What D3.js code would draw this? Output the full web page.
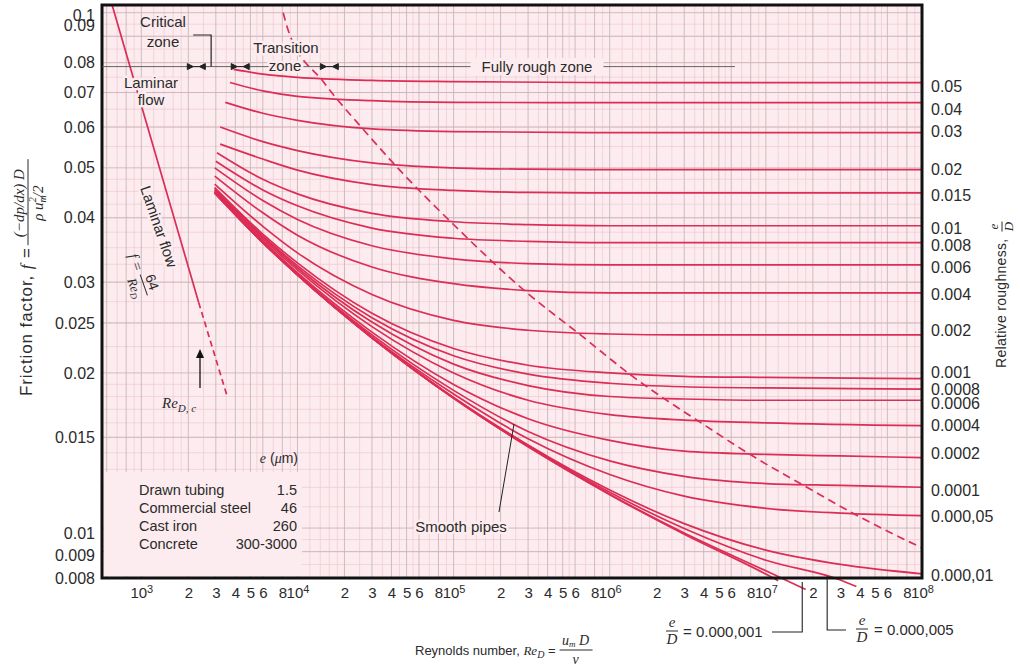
<!DOCTYPE html>
<html>
<head>
<meta charset="utf-8">
<script src="https://cdn.jsdelivr.net/npm/d3@7/dist/d3.min.js"></script>
<style>
  body { margin: 0; background: #fff; }
  text { font-family: "Liberation Sans", Arial, sans-serif; fill: #2b2b2b; }
  .math { font-family: "Liberation Serif", "Times New Roman", serif; font-style: italic; }
  .curve { fill: none; stroke: #dc2d55; stroke-width: 1.7px; }
</style>
</head>
<body>
<script>
// tick values
const reTicks = [1e3, 2e3, 3e3, 4e3, 5e3, 6e3, 8e3, 1e4, 2e4, 3e4, 4e4, 5e4, 6e4, 8e4,
  1e5, 2e5, 3e5, 4e5, 5e5, 6e5, 8e5, 1e6, 2e6, 3e6, 4e6, 5e6, 6e6, 8e6,
  1e7, 2e7, 3e7, 4e7, 5e7, 6e7, 8e7, 1e8];
const fTicks = [0.008, 0.009, 0.01, 0.015, 0.02, 0.025, 0.03, 0.04, 0.05, 0.06, 0.07, 0.08, 0.09, 0.1];

// relative roughness curves, [Re, f]
const roughLabels = ["0.05", "0.04", "0.03", "0.02", "0.015", "0.01", "0.008", "0.006", "0.004",
  "0.002", "0.001", "0.0008", "0.0006", "0.0004", "0.0002", "0.0001", "0.000,05", "0.000,01"];
const roughCurves = [
  [[3900, 0.0776], [6000, 0.0760], [1e4, 0.0749], [3e4, 0.0739], [1e5, 0.0735], [1e6, 0.0732], [1e8, 0.0732]],
  [[3700, 0.0732], [6000, 0.0705], [1e4, 0.0688], [3e4, 0.0675], [1e5, 0.0670], [1e6, 0.0669], [1e8, 0.0669]],
  [[3450, 0.0670], [6000, 0.0638], [1e4, 0.0618], [3e4, 0.0595], [1e5, 0.0588], [1e6, 0.0585], [1e8, 0.0585]],
  [[3200, 0.0600], [6000, 0.0562], [1e4, 0.0540], [3e4, 0.0511], [1e5, 0.0500], [3e5, 0.0497], [1e6, 0.0496], [1e8, 0.0496]],
  [[3200, 0.0556], [6000, 0.0520], [1e4, 0.0495], [3e4, 0.0464], [1e5, 0.0452], [3e5, 0.0448], [1e6, 0.0447], [1e8, 0.0447]],
  [[3050, 0.0535], [6000, 0.0475], [1e4, 0.0445], [3e4, 0.0408], [1e5, 0.0393], [3e5, 0.0388], [1e6, 0.0386], [1e8, 0.0386]],
  [[3000, 0.0515], [6000, 0.0453], [1e4, 0.0422], [3e4, 0.0382], [1e5, 0.0365], [3e5, 0.0360], [1e6, 0.0358], [1e8, 0.0358]],
  [[2950, 0.0500], [6000, 0.0432], [1e4, 0.0397], [3e4, 0.0353], [1e5, 0.0333], [3e5, 0.0326], [1e6, 0.0324], [1e8, 0.0324]],
  [[2950, 0.0482], [6000, 0.0409], [1e4, 0.0370], [3e4, 0.0321], [1e5, 0.0298], [3e5, 0.0289], [1e6, 0.0286], [1e8, 0.0286]],
  [[2950, 0.0465], [6000, 0.0385], [1e4, 0.0342], [3e4, 0.0284], [1e5, 0.0253], [3e5, 0.0242], [1e6, 0.0238], [3e6, 0.0237], [1e8, 0.0237]],
  [[2950, 0.0458], [6000, 0.0372], [1e4, 0.0327], [3e4, 0.0261], [1e5, 0.0223], [3e5, 0.0207], [1e6, 0.0200], [3e6, 0.0197], [1e7, 0.0196], [1e8, 0.0195]],
  [[2950, 0.0456], [6000, 0.0369], [1e4, 0.0323], [3e4, 0.0256], [1e5, 0.0216], [3e5, 0.0199], [1e6, 0.0191], [3e6, 0.0188], [1e7, 0.0187], [1e8, 0.0186]],
  [[2950, 0.0453], [6000, 0.0367], [1e4, 0.0320], [3e4, 0.0251], [1e5, 0.0208], [3e5, 0.0189], [1e6, 0.0180], [3e6, 0.0178], [1e7, 0.0177], [1e8, 0.0177]],
  [[2950, 0.0451], [6000, 0.0364], [1e4, 0.0317], [3e4, 0.0246], [1e5, 0.0200], [3e5, 0.0177], [1e6, 0.0166], [3e6, 0.0162], [1e7, 0.0160], [1e8, 0.0158]],
  [[2950, 0.0449], [6000, 0.0361], [1e4, 0.0313], [3e4, 0.0240], [1e5, 0.0190], [3e5, 0.0163], [1e6, 0.0148], [3e6, 0.0141], [1e7, 0.0139], [3e7, 0.0138], [1e8, 0.0137]],
  [[2950, 0.0448], [6000, 0.0360], [1e4, 0.0311], [3e4, 0.0237], [1e5, 0.0185], [3e5, 0.0154], [1e6, 0.0135], [3e6, 0.0126], [1e7, 0.0122], [3e7, 0.0121], [1e8, 0.0120]],
  [[2950, 0.0448], [6000, 0.0359], [1e4, 0.0310], [3e4, 0.0235], [1e5, 0.0182], [3e5, 0.0149], [1e6, 0.0127], [3e6, 0.01153], [1e7, 0.01092], [3e7, 0.01069], [1e8, 0.01057]],
  [[2950, 0.0447], [6000, 0.0358], [1e4, 0.0310], [3e4, 0.0234], [1e5, 0.01792], [3e5, 0.01449], [1e6, 0.01185], [3e6, 0.0102], [1e7, 0.00906], [3e7, 0.0085], [1e8, 0.00815]]
];
// e/D = 0.000,005 and 0.000,001, both run a little past the bottom frame
const fineCurves = [
  [[2950, 0.0447], [6000, 0.0358], [1e4, 0.0310], [3e4, 0.0234], [1e5, 0.01789], [3e5, 0.01444], [1e6, 0.01173], [3e6, 0.00998], [1e7, 0.00866], [3e7, 0.00793], [3.8e7, 0.0077]],
  [[2950, 0.0447], [6000, 0.0358], [1e4, 0.0310], [3e4, 0.0234], [1e5, 0.01787], [3e5, 0.01439], [1e6, 0.01163], [3e6, 0.00978], [1e7, 0.00826], [1.8e7, 0.0076]]
];
const smoothPipe = [[2950, 0.0447], [6000, 0.0358], [1e4, 0.0310], [3e4, 0.0234], [1e5, 0.01786], [3e5, 0.01438], [1e6, 0.01161], [3e6, 0.00973], [1e7, 0.00814], [1.2e7, 0.0079]];

// laminar f = 64/Re
const laminarSolid = [[650, 0.1035], [2330, 0.0274]];
const laminarDashed = [[2330, 0.0274], [3530, 0.0181]];
// start of the fully rough zone
const roughBoundary = [[8100, 0.1000], [8700, 0.0927], [14780, 0.0732], [27560, 0.0585], [44900, 0.0496], [101800, 0.0386],
  [295700, 0.0286], [649800, 0.0237], [1.43e6, 0.0196], [3.97e6, 0.0159], [8.55e6, 0.0137],
  [1.83e7, 0.0120], [3.9e7, 0.01055], [1e8, 0.00915]];

// pipe table
const materials = ["Drawn tubing", "Commercial steel", "Cast iron", "Concrete"];
const materialRoughness = ["1.5", "46", "260", "300-3000"];

// small label nudges (px) so crowded labels sit as in the source
const roughLabelDy = [4, 7, -1, 0, 2, 3, 3, 2, 2, -5, -6, 0, 3, 0, -4, 3, 1, 2];
const fLabelDy = { 0.1: 3, 0.09: -11, 0.01: 5, 0.009: 4 };

const W = 1020, H = 671;
const plot = { left: 102, right: 922, top: 5, bottom: 578 };
const bg = '#fcecef';

const svg = d3.select('body').append('svg').attr('width', W).attr('height', H);

const x = d3.scaleLog().domain([560, 1e8]).range([plot.left, plot.right]);
const y = d3.scaleLog().domain([0.008, 0.1035]).range([plot.bottom, plot.top]);

svg.append('rect')
  .attr('x', plot.left).attr('y', plot.top)
  .attr('width', plot.right - plot.left).attr('height', plot.bottom - plot.top)
  .attr('fill', bg);

// grid
const xMinor = [], xMajor = [];
[100, 1e3, 1e4, 1e5, 1e6, 1e7].forEach(d => {
  [1.2, 1.4, 1.6, 1.8, 2.5, 3.5, 4.5, 5.5, 7, 9].forEach(m => xMinor.push(m * d));
  [1, 2, 3, 4, 5, 6, 8].forEach(m => xMajor.push(m * d));
});
const yMinor = [];
for (let v = 0.0085; v < 0.01; v += 0.0005) yMinor.push(v);
for (let v = 0.011; v < 0.02; v += 0.001) yMinor.push(v);
for (let v = 0.0225; v < 0.05; v += 0.0025) yMinor.push(v);
for (let v = 0.055; v < 0.1; v += 0.005) yMinor.push(v);

const grid = svg.append('g');
const inX = v => v > 560 && v < 1e8;
grid.selectAll('.xm').data(xMinor.filter(inX)).join('line')
  .attr('x1', d => x(d)).attr('x2', d => x(d)).attr('y1', plot.top).attr('y2', plot.bottom)
  .attr('stroke', '#f1cdd4').attr('stroke-width', 0.8);
grid.selectAll('.ym').data(yMinor).join('line')
  .attr('x1', plot.left).attr('x2', plot.right).attr('y1', d => y(d)).attr('y2', d => y(d))
  .attr('stroke', '#f1cdd4').attr('stroke-width', 0.8);
grid.selectAll('.xM').data(xMajor.filter(inX)).join('line')
  .attr('x1', d => x(d)).attr('x2', d => x(d)).attr('y1', plot.top).attr('y2', plot.bottom)
  .attr('stroke', '#cbb6ba').attr('stroke-width', 0.9);
grid.selectAll('.yM').data(fTicks).join('line')
  .attr('x1', plot.left).attr('x2', plot.right).attr('y1', d => y(d)).attr('y2', d => y(d))
  .attr('stroke', '#cbb6ba').attr('stroke-width', 0.9);

// blank patch behind the pipe table
svg.append('rect')
  .attr('x', plot.left + 2).attr('y', 472).attr('width', 198).attr('height', plot.bottom - 474)
  .attr('fill', bg);

// curves
const line = d3.line().x(d => x(d[0])).y(d => y(d[1])).curve(d3.curveMonotoneX);
const curves = svg.append('g');
curves.selectAll('.r').data(roughCurves.concat(fineCurves, [smoothPipe])).join('path')
  .attr('class', 'curve').attr('d', line);
curves.append('path').attr('class', 'curve').attr('d', line(laminarSolid));
curves.append('path').attr('class', 'curve').attr('d', line(laminarDashed))
  .attr('stroke-dasharray', '6,4');
curves.append('path').attr('class', 'curve').attr('d', line(roughBoundary))
  .attr('stroke-dasharray', '8,5').attr('stroke-width', 1.5);

// frame
svg.append('rect')
  .attr('x', plot.left).attr('y', plot.top)
  .attr('width', plot.right - plot.left).attr('height', plot.bottom - plot.top)
  .attr('fill', 'none').attr('stroke', '#111').attr('stroke-width', 3);

// x axis
const isPow = d => Math.abs(Math.log10(d) - Math.round(Math.log10(d))) < 1e-9;
const xAxis = svg.append('g')
  .attr('transform', `translate(0,${plot.bottom})`)
  .call(d3.axisBottom(x).tickValues(reTicks).tickSize(0).tickPadding(9)
    .tickFormat(d => isPow(d) ? '10' : String(Math.round(d / 10 ** Math.floor(Math.log10(d) + 1e-9)))));
xAxis.select('.domain').remove();
xAxis.selectAll('text').attr('font-size', 15).attr('fill', '#2b2b2b')
  .style('font-family', '"Liberation Sans", Arial, sans-serif')
  .each(function (d) {
    if (isPow(d)) {
      d3.select(this).append('tspan').attr('dy', '-0.45em').attr('font-size', 11)
        .text(Math.round(Math.log10(d)));
    }
  });

// left axis
const yAxis = svg.append('g')
  .attr('transform', `translate(${plot.left},0)`)
  .call(d3.axisLeft(y).tickValues(fTicks).tickSize(0).tickPadding(7).tickFormat(d => String(d)));
yAxis.select('.domain').remove();
yAxis.selectAll('text').attr('font-size', 16).attr('fill', '#2b2b2b')
  .style('font-family', '"Liberation Sans", Arial, sans-serif')
  .attr('y', d => fLabelDy[d] || 0);

// right roughness labels
svg.append('g').selectAll('text').data(roughLabels).join('text')
  .attr('x', plot.right + 9)
  .attr('y', (d, i) => y(roughCurves[i][roughCurves[i].length - 1][1]) + roughLabelDy[i])
  .attr('dy', '0.35em').attr('font-size', 16)
  .text(d => d);

// ---- annotations ----
const ann = svg.append('g');
const halo = sel => sel.attr('stroke', bg).attr('stroke-width', 5).attr('paint-order', 'stroke')
  .attr('stroke-linejoin', 'round');

// zone line and bracket
const zoneY = y(0.0786);
ann.append('line').attr('x1', plot.left).attr('x2', 735).attr('y1', zoneY).attr('y2', zoneY)
  .attr('stroke', '#555').attr('stroke-width', 0.9);
ann.append('path')
  .attr('d', `M${x(2150)},35H${x(2800)}V${zoneY}`)
  .attr('fill', 'none').attr('stroke', '#222').attr('stroke-width', 1.2);
[2250, 4300, 16000].forEach(re => {
  const cx = x(re);
  ann.append('path')
    .attr('d', `M${cx - 9},${zoneY - 3}L${cx - 3},${zoneY}L${cx - 9},${zoneY + 3}Z` +
      `M${cx + 9},${zoneY - 3}L${cx + 3},${zoneY}L${cx + 9},${zoneY + 3}Z` +
      `M${cx - 3},${zoneY}H${cx + 3}`)
    .attr('fill', '#222').attr('stroke', '#222').attr('stroke-width', 1);
});

const label = (t, px, py, size, anchor) => ann.append('text')
  .attr('x', px).attr('y', py).attr('font-size', size).attr('text-anchor', anchor || 'middle').text(t);

label('Critical', 163, 27, 15);
label('zone', 163, 47, 15);
halo(label('Laminar', 151, 88, 15));
halo(label('flow', 151, 105, 15));
halo(label('Transition', 286, 53, 15));
halo(label('zone', 285, 71, 15));

const fr = label('Fully rough zone', 537, 72, 15);
const fb = fr.node().getBBox();
ann.insert('rect', () => fr.node())
  .attr('x', fb.x - 11).attr('y', fb.y).attr('width', fb.width + 22).attr('height', fb.height)
  .attr('fill', bg);

// rotated laminar label with formula
const lam = ann.append('g').attr('transform', 'translate(140,188) rotate(71)');
halo(lam.append('text').attr('font-size', 15).text('Laminar flow'));
lam.append('text').attr('class', 'math').attr('x', 60).attr('y', 33).attr('font-size', 15).text('f =');
lam.append('text').attr('x', 93).attr('y', 24).attr('font-size', 14).attr('text-anchor', 'middle').text('64');
lam.append('line').attr('x1', 82).attr('x2', 104).attr('y1', 28).attr('y2', 28)
  .attr('stroke', '#2b2b2b').attr('stroke-width', 1);
const reD = lam.append('text').attr('class', 'math').attr('x', 93).attr('y', 42)
  .attr('font-size', 13).attr('text-anchor', 'middle');
reD.append('tspan').text('Re');
reD.append('tspan').attr('font-size', 9).attr('dy', 2).text('D');

// critical Re arrow
ann.append('line').attr('x1', 200).attr('x2', 200).attr('y1', 388).attr('y2', 356)
  .attr('stroke', '#111').attr('stroke-width', 1.3);
ann.append('path').attr('d', 'M196,358L200,349L204,358Z').attr('fill', '#111');
const rec = ann.append('text').attr('class', 'math').attr('x', 162).attr('y', 408).attr('font-size', 15);
rec.append('tspan').text('Re');
rec.append('tspan').attr('font-size', 11).attr('dy', 4).text('D, c');

// pipe table
const tbl = ann.append('g');
const hdr = tbl.append('text').attr('x', 298).attr('y', 463).attr('font-size', 14).attr('text-anchor', 'end');
hdr.append('tspan').attr('class', 'math').text('e');
hdr.append('tspan').text(' (');
hdr.append('tspan').attr('class', 'math').text('μ');
hdr.append('tspan').text('m)');
tbl.selectAll('.mat').data(materials).join('text')
  .attr('x', 139).attr('y', (d, i) => 495 + i * 18).attr('font-size', 14.5).text(d => d);
tbl.selectAll('.val').data(materialRoughness).join('text')
  .attr('x', 297).attr('y', (d, i) => 495 + i * 18).attr('font-size', 14.5)
  .attr('text-anchor', 'end').text(d => d);

// smooth pipes
ann.append('line').attr('x1', 499).attr('y1', 512).attr('x2', 514).attr('y2', 424)
  .attr('stroke', '#222').attr('stroke-width', 1);
halo(label('Smooth pipes', 461, 532, 15));

// e/D callouts at the bottom
const frac = (g, px, py, size) => {
  g.append('text').attr('class', 'math').attr('x', px).attr('y', py - 5).attr('font-size', size)
    .attr('text-anchor', 'middle').text('e');
  g.append('line').attr('x1', px - 6).attr('x2', px + 6).attr('y1', py - 1).attr('y2', py - 1)
    .attr('stroke', '#2b2b2b').attr('stroke-width', 1);
  g.append('text').attr('class', 'math').attr('x', px).attr('y', py + 12).attr('font-size', size)
    .attr('text-anchor', 'middle').text('D');
};
frac(ann, 672, 632, 15);
label('= 0.000,001', 683, 637, 15, 'start');
ann.append('path').attr('d', `M772,632H${x(1.71e7)}V582`).attr('fill', 'none')
  .attr('stroke', '#222').attr('stroke-width', 1.1);
ann.append('path').attr('d', `M${x(2.47e7)},576V630H846`).attr('fill', 'none')
  .attr('stroke', '#222').attr('stroke-width', 1.1);
frac(ann, 862, 630, 15);
label('= 0.000,005', 874, 635, 15, 'start');

// axis titles
const yt = svg.append('g').attr('transform', 'translate(32,396) rotate(-90)');
const ytt = yt.append('text').attr('font-size', 17).attr('letter-spacing', 0.9);
ytt.append('tspan').text('Friction factor, ');
ytt.append('tspan').attr('class', 'math').text('f');
ytt.append('tspan').text(' = ');
const yl = ytt.node().getComputedTextLength();
yt.append('text').attr('class', 'math').attr('x', yl + 44).attr('y', -8).attr('font-size', 15)
  .attr('text-anchor', 'middle').text('(−dp/dx) D');
yt.append('line').attr('x1', yl + 2).attr('x2', yl + 88).attr('y1', -4).attr('y2', -4)
  .attr('stroke', '#2b2b2b').attr('stroke-width', 1);
const den = yt.append('text').attr('class', 'math').attr('x', yl + 44).attr('y', 11).attr('font-size', 15)
  .attr('text-anchor', 'middle');
den.append('tspan').text('ρ u');
den.append('tspan').attr('font-size', 10).attr('dy', 3).text('m');
den.append('tspan').attr('font-size', 10).attr('dy', -10).attr('dx', -7).text('2');
den.append('tspan').attr('dy', 7).text('/2');

const rt = svg.append('g').attr('transform', 'translate(1006,368) rotate(-90)');
const rtt = rt.append('text').attr('font-size', 14).attr('letter-spacing', 0.3).text('Relative roughness,');
const rl = rtt.node().getComputedTextLength();
rt.append('text').attr('class', 'math').attr('x', rl + 12).attr('y', -8).attr('font-size', 13)
  .attr('text-anchor', 'middle').text('e');
rt.append('line').attr('x1', rl + 7).attr('x2', rl + 17).attr('y1', -4).attr('y2', -4)
  .attr('stroke', '#2b2b2b').attr('stroke-width', 1);
rt.append('text').attr('class', 'math').attr('x', rl + 12).attr('y', 7).attr('font-size', 13)
  .attr('text-anchor', 'middle').text('D');

const xt = svg.append('text').attr('x', 415).attr('y', 655).attr('font-size', 13);
xt.append('tspan').text('Reynolds number, ');
xt.append('tspan').attr('class', 'math').text('Re');
xt.append('tspan').attr('class', 'math').attr('font-size', 10).attr('dy', 3).text('D');
xt.append('tspan').attr('dy', -3).text(' = ');
const xl = xt.node().getComputedTextLength();
const xn = svg.append('text').attr('class', 'math').attr('x', 415 + xl + 20).attr('y', 645)
  .attr('font-size', 14).attr('text-anchor', 'middle');
xn.append('tspan').text('u');
xn.append('tspan').attr('font-size', 9).attr('dy', 2).text('m');
xn.append('tspan').attr('dy', -2).text(' D');
svg.append('line').attr('x1', 415 + xl + 4).attr('x2', 415 + xl + 37).attr('y1', 650).attr('y2', 650)
  .attr('stroke', '#2b2b2b').attr('stroke-width', 1);
svg.append('text').attr('class', 'math').attr('x', 415 + xl + 20).attr('y', 664)
  .attr('font-size', 14).attr('text-anchor', 'middle').text('ν');
</script>
</body>
</html>
